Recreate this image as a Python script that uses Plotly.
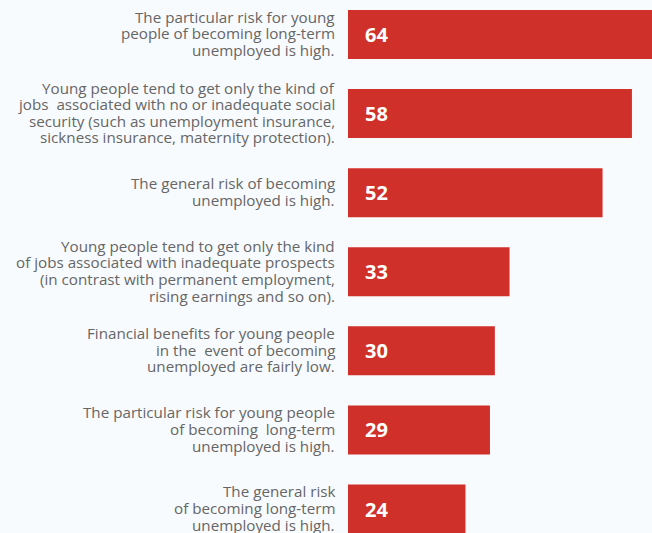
import plotly.graph_objects as go

# Survey statements (top to bottom), one list entry per printed line
labels = [
    ["The particular risk for young", "people of becoming long-term", "unemployed is high."],
    ["Young people tend to get only the kind of", "jobs  associated with no or inadequate social",
     "security (such as unemployment insurance,", "sickness insurance, maternity protection)."],
    ["The general risk of becoming", "unemployed is high."],
    ["Young people tend to get only the kind", "of jobs associated with inadequate prospects",
     "(in contrast with permanent employment,", "rising earnings and so on)."],
    ["Financial benefits for young people", "in the  event of becoming", "unemployed are fairly low."],
    ["The particular risk for young people", "of becoming  long-term", "unemployed is high."],
    ["The general risk", "of becoming long-term", "unemployed is high."],
]
values = [64, 58, 52, 33, 30, 29, 24]

bar_color = "#d0302a"
label_font = dict(family="Open Sans", size=15.2, color="#666666")
line_pitch = 16.6

ypos = list(range(len(values)))

fig = go.Figure()
fig.add_trace(go.Bar(
    x=values,
    y=ypos,
    orientation="h",
    width=0.62,
    marker=dict(color=bar_color, line=dict(width=0)),
    hoverinfo="skip",
))

for i, (lines, val) in enumerate(zip(labels, values)):
    n = len(lines)
    for k, line in enumerate(lines):
        fig.add_annotation(
            x=0, xref="paper", y=i, yref="y",
            text=line, showarrow=False,
            xanchor="right", yanchor="middle", align="right",
            xshift=-12, yshift=((n - 1) / 2 - k) * line_pitch + 1,
            borderpad=0, font=label_font,
        )
    # value inside the bar
    fig.add_annotation(
        x=0, xref="paper", y=i, yref="y",
        text=f"<b>{val}</b>", showarrow=False,
        xanchor="left", yanchor="middle",
        xshift=15, font=dict(family="Open Sans", size=20, color="white"),
    )

fig.update_layout(
    width=652, height=533,
    margin=dict(l=348, r=0, t=0, b=0),
    paper_bgcolor="#f8fbfd",
    plot_bgcolor="rgba(0,0,0,0)",
    showlegend=False,
    xaxis=dict(range=[0, 62.1], visible=False, fixedrange=True),
    yaxis=dict(range=[6.303, -0.436], visible=False, fixedrange=True),
)

fig.write_html(
    "out.html",
    config={"displayModeBar": False},
    post_script="document.body.style.margin='0';document.body.style.overflow='hidden';",
)
